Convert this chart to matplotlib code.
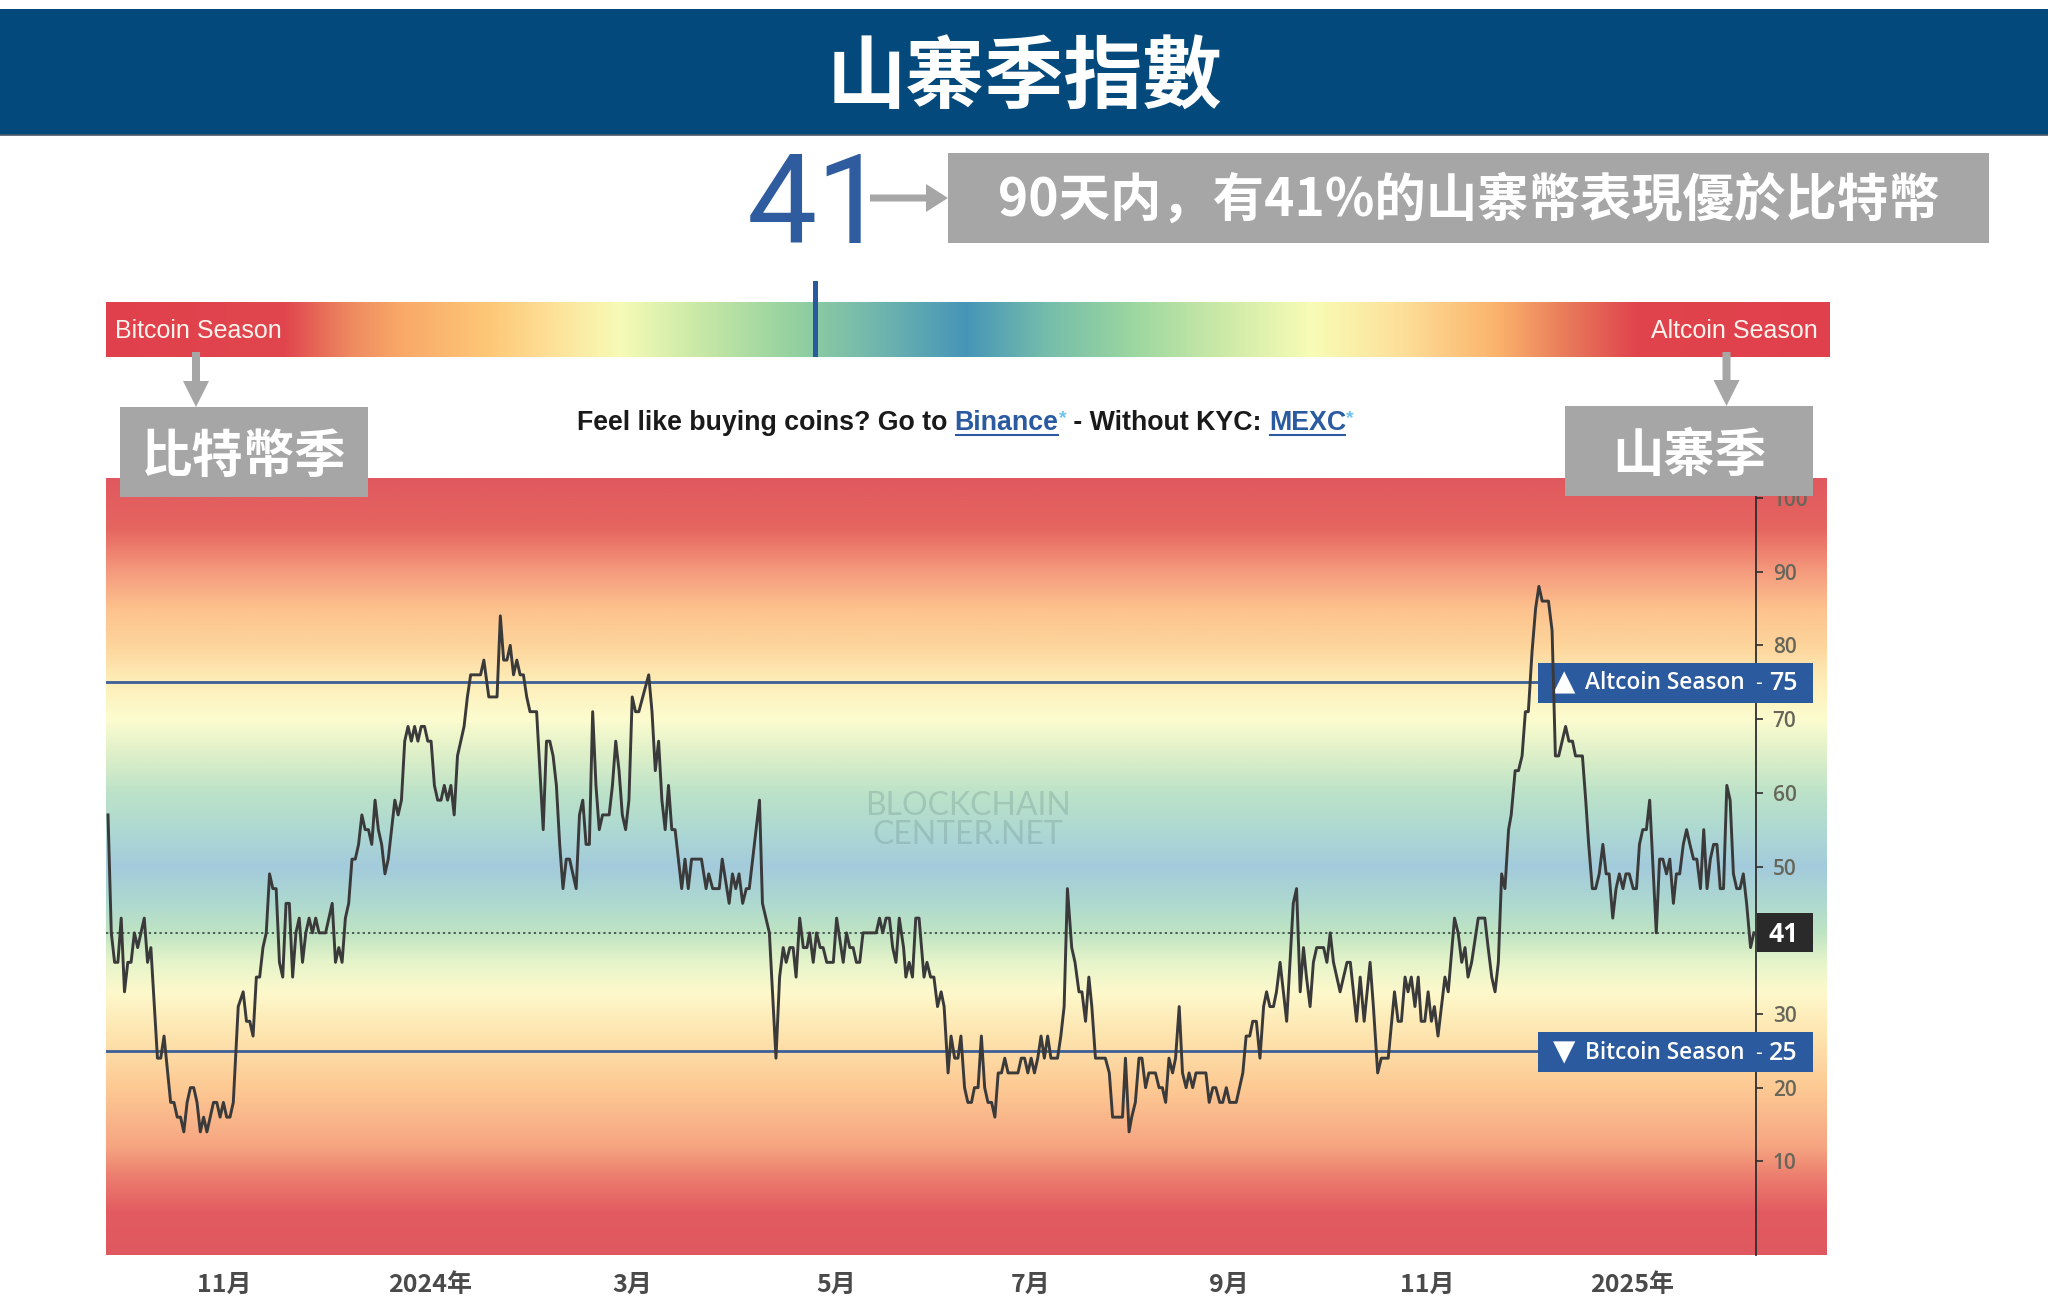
import matplotlib
matplotlib.use("Agg")
import matplotlib.pyplot as plt
import numpy as np
from matplotlib.colors import LinearSegmentedColormap
from matplotlib.patches import Rectangle, FancyArrow

CJK = ['Noto Sans CJK TC', 'DejaVu Sans']
plt.rcParams['font.family'] = CJK

days_a = [0,1,2,3,4,5,6,7,8,9,11,12,13,15,16,17,19,20,21,22,23,24,25,26,27,28,29,30,32,33,34,35,36,37,38,39.5,41,42,43,44,45,46,47,48,49,50,51,52,53,54,55,56,57,58,59,60,61,62,63,64,66,68,69,70,71,72,73,74,75,76,77,78,79,80,81,82,83,84,85,87,88,89,90,91,92,93,94,95,96,97,98,99,100,101,102,103,104,105,106,107,108,109,110,113,114,115.5,118,119,120,121,122,123,124,125,126,127,128,130,131,132,133,134,135,136,137,138,139,140,141,142,143,144,145,146,147,148,149,150,152,153,154,155,156,157,158,159,160,161,164,165,166,167,168,169,170,171,172,174,175,176,177,180]
vals_a = [57,41,37,37,43,33,37,37,41,39,43,37,39,24,24,27,18,18,16,16,14,18,20,20,18,14,16,14,18,18,16,18,16,16,18,31,33,29,29,27,35,35,39,41,49,47,47,37,35,45,45,35,41,43,37,41,43,41,43,41,41,45,37,39,37,43,45,51,51,53,57,55,55,53,59,55,53,49,51,59,57,59,67,69,67,69,67,69,69,67,67,61,59,59,61,59,61,57,65,67,69,73,76,76,78,73,73,84,78,78,80,76,78,76,76,73,71,71,63,55,67,67,65,61,53,47,51,51,49,47,57,59,53,53,71,61,55,57,57,61,67,63,57,55,59,73,71,71,76,71,63,67,59,55,61,55,55,47,51,47,51,51]

days_b = [181.4,182.2,183.4,185.4,186.3,188.4,189.4,190.4,191.4,192.5,193.6,194.5,197.6,198.5,200.6,202.6,203.7,204.8,205.7,206.8,207.8,208.7,209.8,210.9,212,212.8,213.9,214.9,216,216.9,218,220,221,223,224,225,226,227,228,229,233,234,235,236,237,238,239,240,241.3,242,243,244,245,246,247.5,248.4,249.5,250.5,251.6,252.7,253.6,254.8,255.7,256.8,257.8,258.7,259.8,260.8,261.9,262.8,263.9,264.9,265.9,266.9,268,269,270,271,272,273,276,277,278,279,280,281,282,283,284,285,286,288,289,290,291,292.3,293.3,294.5,295.4,296.5,297.5,298.4,299.5,302.5,303.7,304.7,307.7,308.6,309.7,310.5,311.6,312.7,313.6,314.7,315.7,317.7,318.8,319.8,320.8,321.8,322.9,323.8,324.9,325.9,327,327.9,329,330,333,334,335.1,336,337.2,338.1,339.2,340.2,342.2,343.2,344.2,345.2,346.3,347.2,348.3,349.4,350.5,351.4,352.4,353.5,354.4,355.5,356.5,357.5,358.5,359.5,360.5,361.6,362.6,363.5,364.6,365.6,366.6]
vals_b = [47,49,47,47,51,45,49,47,49,45,47,47,59,45,41,24,35,39,37,39,39,35,43,39,39,41,37,41,39,39,37,37,43,37,41,39,39,37,37,41,41,43,41,43,43,39,37,43,39,35,37,35,43,43,35,37,35,35,31,33,31,22,27,24,24,27,20,18,18,20,20,27,20,18,18,16,22,22,24,22,22,24,24,22,24,22,24,27,24,27,24,24,27,31,47,39,37,33,33,29,35,31,24,24,22,16,16,24,14,16,18,24,24,20,22,22,20,20,18,24,22,24,31,22,20,22,20,22,22,18,20,20,18,18,20,18,18,20,22,27,27,29,29,24,31,33,31,31,33,37,33,29,37,45,47,33,39,35,31,37,39]

days_c = [368.7,369.7,370.7,371.7,373.7,375.8,376.8,378.7,379.8,381,382.8,383.8,385.1,386.2,388.3,390.2,391.3,392.3,393.4,394.3,395.3,396.4,397.4,398.3,399.4,400.4,401.4,402.3,403.4,405.5,406.5,408.4,409.5,410.6,411.6,412.5,413.6,415.6,417.6,418.6,419.7,420.7,421.7,422.7,423.7,424.8,425.6,426.8,427.8,428.9,429.9,430.8,431.9,433,434,435,436.9,438,439,440,442.1,443.1,444.2,445.1,447.2,448.2,449.1,450.2,451.2,452.3,453.4,454.4,455.3,456.4,457.4,458.4,459.5,460.4,461.4,462.6,463.6,464.5,465.5,466.6,467.6,469.6,470.6,471.6,472.7,473.7,474.8,475.7,476.7,477.8,478.8,479.8,480.9,481.9,483,484,485,486,487,488,489,490,491,492,493,494,495,496,497,498.2,499.2]
vals_c = [39,37,41,37,33,37,37,29,35,29,37,31,22,24,24,33,29,29,35,33,35,31,35,29,29,33,29,31,27,35,33,43,41,37,39,35,37,43,43,39,35,33,37,49,47,55,57,63,63,65,71,71,79,85,88,86,86,82,65,65,69,67,67,65,65,59,53,47,47,49,53,49,49,43,47,49,47,49,49,47,47,53,55,55,59,41,51,51,49,51,45,49,49,53,55,53,51,51,47,55,47,51,53,53,47,47,61,59,49,47,47,49,45,39,41]

days = days_a + days_b + days_c
values = vals_a + vals_b + vals_c

tick_days = [35.4, 97.6, 159, 220.8, 279.8, 340, 400.2, 462.4]
tick_labels = ['11月', '2024年', '3月', '5月', '7月', '9月', '11月', '2025年']
y_ticks = [10, 20, 30, 50, 60, 70, 80, 90, 100]
altcoin_level = 75
bitcoin_level = 25
current = 41

W, H = 2048, 1304
fig = plt.figure(figsize=(W / 100, H / 100), dpi=100, facecolor='white')

def px_axes(l, t, r, b, **kw):
    return fig.add_axes([l / W, 1 - b / H, (r - l) / W, (b - t) / H], **kw)

# chart
bg_stops = [(-3,'#e0585f'),(3,'#e25b60'),(8,'#ec7f6f'),(12,'#f6a581'),(20,'#fdca94'),(27,'#fee4ae'),(33,'#fdf9cc'),(37,'#e6f4ca'),(41,'#bfe4c3'),(45,'#aed9cf'),(50,'#a3cbdc'),(55,'#aed9d2'),(60,'#bce2c8'),(65,'#dcefc8'),(70,'#fcfccf'),(75,'#feeeb9'),(80,'#fdd59c'),(85,'#fdc28d'),(90,'#f59b7e'),(96,'#e5655f'),(103,'#e0585f')]
vmin, vmax = -2.7, 102.7
cm = LinearSegmentedColormap.from_list('bg', [((v + 3) / 106, c) for v, c in bg_stops], N=1024)

x0_px, px_per_day = 108, 3.297
ax = px_axes(106, 478, 1827, 1255)
xmin = (106 - x0_px) / px_per_day
xmax = (1827 - x0_px) / px_per_day
grad = np.linspace(-3, 103, 800)[:, None]
ax.imshow((grad + 3) / 106, cmap=cm, vmin=0, vmax=1, origin='lower', aspect='auto',
          extent=[xmin, xmax, -3, 103], zorder=0)
ax.set_xlim(xmin, xmax)
ax.set_ylim(vmin, vmax)

ax.axhline(current, color='#2b3a33', lw=1.1, ls=(0, (1.5, 2)), xmax=(1756 - 106) / (1827 - 106), zorder=3)
end = (1538 - 106) / (1827 - 106)
for lv in (altcoin_level, bitcoin_level):
    ax.axhline(lv, color='#3c5f98', lw=2.0, xmax=end, zorder=3)

ax.text((968 - x0_px) / px_per_day, 58.2, 'BLOCKCHAIN', family='Lato', fontsize=23,
        color='#5f8080', alpha=0.26, ha='center', va='center', zorder=2)
ax.text((968 - x0_px) / px_per_day, 54.3, 'CENTER.NET', family='Lato', fontsize=23,
        color='#5f8080', alpha=0.26, ha='center', va='center', zorder=2)

for s in ('top', 'left', 'bottom'):
    ax.spines[s].set_visible(False)
ax.spines['right'].set_position(('data', (1756 - x0_px) / px_per_day))
ax.spines['right'].set_color('#2e2e2e')
ax.spines['right'].set_linewidth(1.3)
ax.yaxis.tick_right()
ax.set_yticks(y_ticks)
ax.set_yticklabels([str(v) for v in y_ticks], family='Open Sans', fontsize=15, color='#66665a', fontweight='semibold')
ax.tick_params(axis='y', length=5, width=1.2, color='#2e2e2e', pad=7)
ax.set_xticks(tick_days)
ax.set_xticklabels(tick_labels, fontsize=18, color='#4a4a4a', fontweight='bold')
ax.tick_params(axis='x', length=0, pad=13)

ov = fig.add_axes([0, 0, 1, 1], zorder=10)
ov.set_xlim(0, W)
ov.set_ylim(H, 0)
ov.axis('off')

# value boxes under the line
def chart_box(l, t, r, b, c):
    ax.add_patch(Rectangle((l, t), r - l, b - t, transform=ov.transData, facecolor=c,
                           edgecolor='none', zorder=5, clip_on=False))

def chart_text(x, y, s, **kw):
    ax.text(x, y, s, transform=ov.transData, va='center', color='white', zorder=5.5, clip_on=False, **kw)

chart_box(1538, 662.5, 1813, 702.5, '#2b5a9e')
chart_box(1538, 1032, 1813, 1072, '#2b5a9e')
chart_box(1757, 913, 1813, 952, '#2a2a2a')
for yc, mark, name, val in ((683, '▲', 'Altcoin Season', altcoin_level), (1053, '▼', 'Bitcoin Season', bitcoin_level)):
    chart_text(1564, yc - 1, mark, family='DejaVu Sans', fontsize=21, ha='center')
    chart_text(1585, yc, name, family='Open Sans', fontsize=16.3, ha='left', fontweight='semibold')
    chart_text(1758, yc, '-', family='Open Sans', fontsize=15, ha='center')
    chart_text(1798, yc, str(val), family='Open Sans', fontsize=18, ha='right', fontweight='semibold')
chart_text(1784, 934, str(current), family='Open Sans', fontsize=19, ha='center', fontweight='bold')

ax.plot(days, values, color='#3a3a3a', lw=2.1, solid_joinstyle='round', zorder=6)

# banner
ov.add_patch(Rectangle((0, 9), W, 126, facecolor='#03497b', edgecolor='none'))
ov.plot([0, W], [134.5, 134.5], color='#4a5a68', lw=1.2)
ov.text(1024, 79, '山寨季指數', color='white', fontsize=57, fontweight='bold', ha='center', va='center')

# big value and explanation
ov.text(817, 209, str(current), family='Roboto', fontsize=90, color='#2f5c9f', ha='center', va='center')
ov.add_patch(Rectangle((948, 153), 1041, 90, facecolor='#a6a6a6', edgecolor='none'))
ov.text(1469, 200, '90天内\uff0c有41%的山寨幣表現優於比特幣', family=['Noto Sans CJK SC', 'DejaVu Sans'],
        color='white', fontsize=37, fontweight='bold', ha='center', va='center')
ov.add_patch(FancyArrow(870, 198, 78, 0, width=7, head_width=28, head_length=22,
                        length_includes_head=True, facecolor='#a6a6a6', edgecolor='none'))

# top gradient bar
bar_stops = [(106,'#e0404c'),(285,'#e0464e'),(350,'#ee8a60'),(400,'#f9a868'),(490,'#fdc878'),(560,'#fde49c'),(620,'#f6fbb6'),(700,'#c8e8a6'),(790,'#96d2a0'),(880,'#6fb5ae'),(966,'#4695b8'),(1045,'#74bcab'),(1131,'#9bd6a0'),(1230,'#d0eba8'),(1313,'#f8fcb6'),(1400,'#fde09a'),(1496,'#fbb46c'),(1570,'#e8785a'),(1637,'#e0444d'),(1830,'#e0404c')]
bar_cm = LinearSegmentedColormap.from_list('bar', [((x - 106) / (1830 - 106), c) for x, c in bar_stops], N=1024)
ov.imshow(np.linspace(0, 1, 1024)[None, :], cmap=bar_cm, aspect='auto', extent=[106, 1830, 357, 302], zorder=1)
ov.set_xlim(0, W)
ov.set_ylim(H, 0)
ov.add_patch(Rectangle((812.5, 281), 5, 76, facecolor='#2a5a9e', edgecolor='none', zorder=2))
ov.text(115, 331, 'Bitcoin Season', family='Liberation Sans', fontsize=18, color='#fdf3ec', ha='left', va='center', zorder=3)
ov.text(1818, 331, 'Altcoin Season', family='Liberation Sans', fontsize=18, color='#fdf3ec', ha='right', va='center', zorder=3)

# grey callouts
for l, t, r, b, ax_x, label in ((120, 407, 368, 497, 196, '比特幣季'), (1565, 406, 1813, 496, 1726.5, '山寨季')):
    ov.add_patch(Rectangle((l, t), r - l, b - t, facecolor='#a6a6a6', edgecolor='none', zorder=4))
    ov.add_patch(FancyArrow(ax_x, 352, 0, t - 352, width=8, head_width=26, head_length=26,
                            length_includes_head=True, facecolor='#a6a6a6', edgecolor='none', zorder=4))
for xc, label in ((244, '比特幣季'), (1689, '山寨季')):
    ov.text(xc, 456, label, color='white', fontsize=37, fontweight='bold', ha='center', va='center', zorder=5)

# promo line with link colours
segments = [('Feel like buying coins? Go to ', '#1a1a1a', False, False), ('Binance', '#2a5aa0', True, False),
            ('*', '#6fc3ea', False, True), (' - Without KYC: ', '#1a1a1a', False, False),
            ('MEXC', '#2a5aa0', True, False), ('*', '#6fc3ea', False, True)]
rend = fig.canvas.get_renderer()
x = 577
for s, col, link, star in segments:
    t = ov.text(x, 419 if star else 423, s.replace(' ', '\u00a0'), family='Liberation Sans',
                fontsize=14 if star else 19.3, fontweight='bold', color=col, ha='left', va='center', zorder=3)
    w = t.get_window_extent(rend).width
    if link:
        ov.plot([x, x + w], [435, 435], color=col, lw=1.5, zorder=3, solid_capstyle='butt')
    x += w
ov.set_xlim(0, W)
ov.set_ylim(H, 0)

fig.savefig('out.png', dpi=100, facecolor='white')
